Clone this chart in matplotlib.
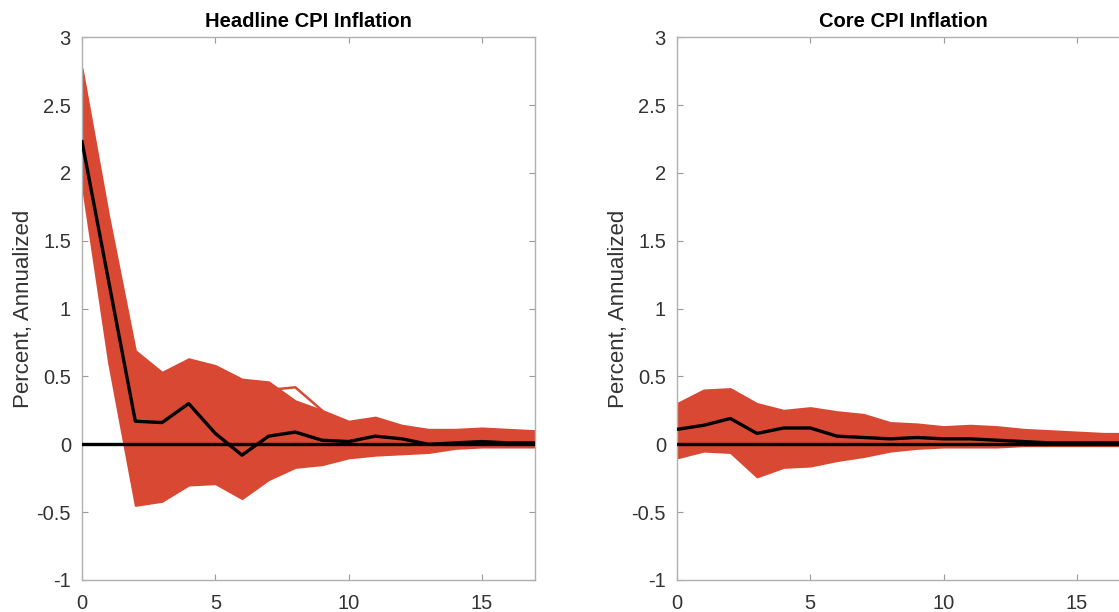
import matplotlib.pyplot as plt
import numpy as np

plt.rcParams["font.family"] = ["Liberation Sans", "DejaVu Sans"]

horizon = np.arange(18)

# headline CPI: envelope of the draws and the median response
head_upper = [2.77, 1.68, 0.69, 0.53, 0.63, 0.58, 0.48, 0.46, 0.32, 0.25, 0.17,
              0.20, 0.14, 0.11, 0.11, 0.12, 0.11, 0.10]
head_lower = [1.92, 0.60, -0.45, -0.42, -0.30, -0.29, -0.40, -0.26, -0.17, -0.15,
              -0.10, -0.08, -0.07, -0.06, -0.03, -0.02, -0.02, -0.02]
head_median = [2.23, 1.20, 0.17, 0.16, 0.30, 0.08, -0.08, 0.06, 0.09, 0.03, 0.02,
               0.06, 0.04, 0.00, 0.01, 0.02, 0.01, 0.01]
head_outlier_x = [6, 7, 8, 9]
head_outlier_y = [0.30, 0.40, 0.42, 0.25]

# core CPI
core_upper = [0.30, 0.40, 0.41, 0.30, 0.25, 0.27, 0.24, 0.22, 0.16, 0.15, 0.13,
              0.14, 0.13, 0.11, 0.10, 0.09, 0.08, 0.08]
core_lower = [-0.10, -0.05, -0.06, -0.24, -0.17, -0.16, -0.12, -0.09, -0.05, -0.03,
              -0.02, -0.02, -0.02, -0.01, -0.01, -0.01, -0.01, -0.01]
core_median = [0.11, 0.14, 0.19, 0.08, 0.12, 0.12, 0.06, 0.05, 0.04, 0.05, 0.04,
               0.04, 0.03, 0.02, 0.01, 0.01, 0.01, 0.01]

titles = ["Headline CPI Inflation", "Core CPI Inflation"]
RED = "#d94832"
TICK_COLOR = "#333333"


def draw_panel(ax, title, upper, lower, median, outlier=None):
    ax.fill_between(horizon, lower, upper, color=RED, linewidth=1.5,
                    edgecolor=RED, zorder=2)
    if outlier is not None:
        ax.plot(outlier[0], outlier[1], color=RED, linewidth=1.8, zorder=2)
    ax.axhline(0, color="black", linewidth=2.4, zorder=3)
    ax.plot(horizon, median, color="black", linewidth=2.4, zorder=4)

    ax.set_xlim(0, 17)
    ax.set_ylim(-1, 3)
    ax.set_xticks([0, 5, 10, 15])
    ax.set_yticks(np.arange(-1, 3.01, 0.5))
    ax.set_yticklabels(["-1", "-0.5", "0", "0.5", "1", "1.5", "2", "2.5", "3"])
    ax.tick_params(direction="in", top=True, right=True, length=4,
                   color="#9a9a9a", labelcolor=TICK_COLOR, labelsize=14.5)
    ax.tick_params(axis="y", pad=8)
    ax.tick_params(axis="x", pad=10)
    for spine in ax.spines.values():
        spine.set_color("#b0b0b0")
        spine.set_linewidth(1.0)
    ax.set_title(title, fontsize=14.5, fontweight="bold", pad=7)
    ax.set_ylabel("Percent, Annualized", fontsize=16, color=TICK_COLOR, labelpad=2)


fig = plt.figure(figsize=(11.19, 6.12), dpi=100)
ax1 = fig.add_axes([0.0733, 0.0523, 0.405, 0.887])
ax2 = fig.add_axes([0.605, 0.0523, 0.405, 0.887])

draw_panel(ax1, titles[0], head_upper, head_lower, head_median,
           (head_outlier_x, head_outlier_y))
draw_panel(ax2, titles[1], core_upper, core_lower, core_median)

fig.savefig("out.png", dpi=100)
